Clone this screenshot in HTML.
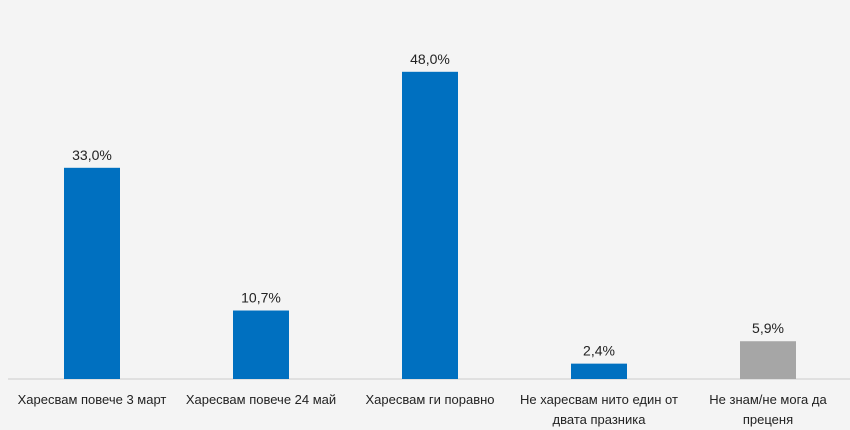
<!DOCTYPE html>
<html><head><meta charset="utf-8"><style>
body{margin:0;background:#f4f4f4;font-family:"Liberation Sans","DejaVu Sans",sans-serif;}
svg{display:block}
</style></head><body>
<svg width="850" height="430" id="c">
<rect width="850" height="430" fill="#f4f4f4"/>
<line x1="8" y1="379" x2="850" y2="379" stroke="#d4d4d4" stroke-width="1.2"/>
</svg>
<script>
const categories=[["Харесвам повече 3 март"],["Харесвам повече 24 май"],["Харесвам ги поравно"],["Не харесвам нито един от","двата празника"],["Не знам/не мога да","преценя"]];
const values=[33.0,10.7,48.0,2.4,5.9];
const valueLabels=["33,0%","10,7%","48,0%","2,4%","5,9%"];
const colors=["#0070c0","#0070c0","#0070c0","#0070c0","#a6a6a6"];
const svg=document.getElementById('c');const NS="http://www.w3.org/2000/svg";
const x0=7.5,slot=169,bw=56,base=379,scale=6.4;
const xs=i=>x0+slot*i+slot/2; const ys=v=>base-v*scale;
values.forEach((v,i)=>{
 const r=document.createElementNS(NS,'rect');
 r.setAttribute('x',xs(i)-bw/2);r.setAttribute('y',ys(v));r.setAttribute('width',bw);r.setAttribute('height',base-ys(v));r.setAttribute('fill',colors[i]);
 
 
 svg.appendChild(r);
 const t=document.createElementNS(NS,'text');
 t.setAttribute('x',xs(i));t.setAttribute('y',ys(v)-8);t.setAttribute('text-anchor','middle');t.setAttribute('font-size','14');t.setAttribute('fill','#222');t.textContent=valueLabels[i];
 
 
 svg.appendChild(t);
 categories[i].forEach((line,j)=>{
  const c=document.createElementNS(NS,'text');
  c.setAttribute('x',xs(i));c.setAttribute('y',404+j*20);c.setAttribute('text-anchor','middle');c.setAttribute('font-size','13');c.setAttribute('fill','#222');c.textContent=line;
  
  
  svg.appendChild(c);
 });
});
</script>
</body></html>
